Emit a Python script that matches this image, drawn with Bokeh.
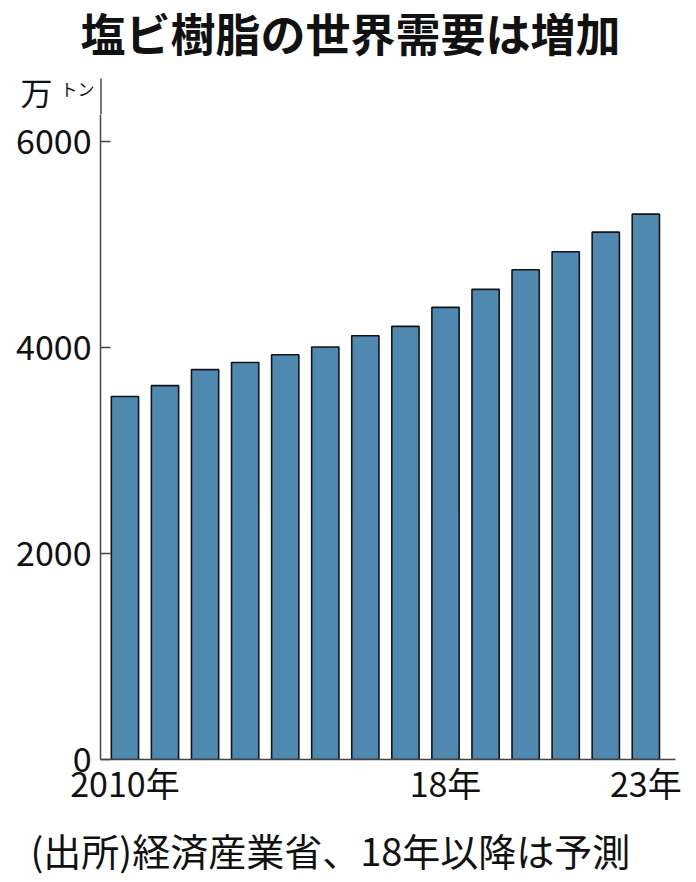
from bokeh.plotting import figure
from bokeh.models import ColumnDataSource, FixedTicker, Range1d
from bokeh.core.properties import value
from bokeh.layouts import column
from bokeh.embed import file_html
from bokeh.resources import INLINE

# ---- data ----
years = [2010, 2011, 2012, 2013, 2014, 2015, 2016, 2017, 2018, 2019, 2020, 2021, 2022, 2023]
demand = [3525, 3630, 3785, 3855, 3930, 4005, 4115, 4205, 4390, 4565, 4755, 4930, 5120, 5295]
y_ticks = [0, 2000, 4000, 6000]
x_ticks = [2010, 2018, 2023]
x_tick_labels = ["2010年", "18年", "23年"]

title_text = "塩ビ樹脂の世界需要は増加"
unit_main = "万"
unit_small = "トン"
footer_text = "(出所)経済産業省、18年以降は予測"

# ---- layout (pixels) ----
W = 696
TOP_H = 114          # header strip height
FOOT_H = 60          # footer strip height
MAIN_H = 882 - TOP_H - FOOT_H
FL, FR = 100, 675    # frame left/right
FRAME_H = 759 - TOP_H
PX_PER_UNIT = 681 / 6612
X0, X1 = 2009.39, 2023.74
Y0, Y1 = 0, FRAME_H / PX_PER_UNIT

FONT = "Noto Sans CJK JP"
INK = "#111111"
AXIS = "#444444"


def no_align(f):
    if "frame_align" in f.properties():
        f.frame_align = False
    return f


def strip(height):
    f = figure(width=W, height=height, output_backend="svg", toolbar_location=None,
               title=None, x_range=Range1d(0, W), y_range=Range1d(height, 0),
               x_axis_location=None, y_axis_location=None,
               min_border=0, min_border_left=0, min_border_right=0,
               min_border_top=0, min_border_bottom=0)
    f.outline_line_color = None
    f.xgrid.visible = False
    f.ygrid.visible = False
    f.background_fill_color = "white"
    f.border_fill_color = "white"
    return no_align(f)


# header: title, unit and top end of the y axis line
top = strip(TOP_H)
top.text(x=[350], y=[32], text=[title_text], text_font=value(FONT),
         text_font_size=value("45px"), text_font_style="bold", text_color=INK,
         text_align="center", text_baseline="middle")
top.text(x=[20], y=[90], text=[unit_main], text_font=value(FONT),
         text_font_size=value("32px"), text_color=INK,
         text_align="left", text_baseline="middle")
top.text(x=[60], y=[88], text=[unit_small], text_font=value(FONT),
         text_font_size=value("17px"), text_color=INK,
         text_align="left", text_baseline="middle")
top.segment(x0=[FL + 0.5], y0=[78], x1=[FL + 0.5], y1=[TOP_H + 1],
            line_color=AXIS, line_width=1.5)

# main chart
p = figure(width=W, height=MAIN_H, output_backend="svg", toolbar_location=None,
           title=None, x_range=Range1d(X0, X1), y_range=Range1d(Y0, Y1),
           min_border_left=FL, min_border_right=W - FR,
           min_border_top=0, min_border_bottom=MAIN_H - FRAME_H)
p.outline_line_color = None
p.xgrid.visible = False
p.ygrid.visible = False
p.background_fill_color = "white"
p.border_fill_color = "white"
no_align(p)

src = ColumnDataSource(dict(year=years, demand=demand))
p.vbar(x="year", top="demand", width=0.68, source=src,
       fill_color="#5089b0", line_color="#151515", line_width=1.6)

ya = p.yaxis[0]
ya.ticker = FixedTicker(ticks=y_ticks)
ya.major_tick_in = 10
ya.major_tick_out = 0
ya.minor_tick_line_color = None
ya.axis_line_color = AXIS
ya.axis_line_width = 1.5
ya.major_tick_line_color = AXIS
ya.major_tick_line_width = 1.5
ya.major_label_text_font = FONT
ya.major_label_text_font_size = "34px"
ya.major_label_text_color = INK
ya.major_label_standoff = 9

xa = p.xaxis[0]
xa.ticker = FixedTicker(ticks=x_ticks)
xa.major_label_overrides = {t: s for t, s in zip(x_ticks, x_tick_labels)}
xa.major_tick_line_color = None
xa.minor_tick_line_color = None
xa.axis_line_color = AXIS
xa.axis_line_width = 1.5
xa.major_label_text_font = FONT
xa.major_label_text_font_size = "34px"
xa.major_label_text_color = INK
xa.major_label_standoff = -8

# footer
foot = strip(FOOT_H)
foot.text(x=[30], y=[849 - (882 - FOOT_H)], text=[footer_text], text_font=value(FONT),
          text_font_size=value("38px"), text_color=INK,
          text_align="left", text_baseline="middle")

layout = column(top, p, foot, spacing=0)
open("out.html", "w").write(file_html(layout, INLINE))
